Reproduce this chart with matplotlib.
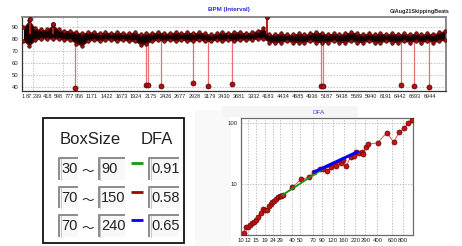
import numpy as np
import matplotlib
matplotlib.use("Agg")
import matplotlib.pyplot as plt
from matplotlib.patches import Rectangle

# ---------------- data ----------------
# BPM band (upper / lower envelope) every 100 beats
band_x = np.arange(0, 7300, 100)
band_hi = [90, 96, 89, 88, 88, 92, 88, 87, 87, 86, 85, 86, 86, 85, 86, 85, 86, 85, 85, 86,
           84, 85, 85, 86, 85, 85, 86, 85, 86, 85, 86, 85, 84, 85, 86, 85, 86, 86, 85, 86,
           87, 89, 84, 84, 85, 84, 84, 85, 84, 85, 86, 85, 84, 85, 84, 85, 86, 85, 84, 85,
           84, 85, 84, 85, 84, 85, 84, 85, 84, 85, 84, 86, 87]
band_lo = [78, 74, 79, 80, 80, 80, 80, 79, 79, 76, 74, 78, 79, 78, 79, 79, 78, 79, 78, 78,
           75, 76, 78, 79, 78, 79, 78, 79, 78, 78, 79, 78, 78, 79, 78, 79, 78, 79, 79, 79,
           80, 80, 77, 77, 77, 78, 77, 77, 77, 78, 77, 77, 77, 78, 77, 77, 78, 77, 77, 78,
           77, 77, 78, 77, 77, 78, 77, 78, 77, 78, 77, 78, 79]
spike_x = [112, 500, 4154]
spike_y = [97, 92.5, 98.5]
drop_x = [886, 2090, 2120, 2355, 2891, 3147, 3562, 5090, 5120, 6443, 6671, 6927]
drop_y = [39, 41.5, 41.5, 40.8, 43.2, 40.8, 42.3, 41, 41, 42, 41, 40]
bpm_xticks = [1, 87, 239, 418, 598, 777, 956, 1171, 1422, 1673, 1924, 2175, 2426, 2677,
              2928, 3179, 3430, 3681, 3932, 4183, 4434, 4685, 4936, 5187, 5438, 5689,
              5940, 6191, 6442, 6693, 6944]
bpm_yticks = [40, 50, 60, 70, 80, 90]

# DFA
dfa_n = [10.7, 11.35, 12.0, 12.75, 13.6, 14.3, 14.9, 15.7, 17.15, 18.3, 19.1, 20.0, 21.3,
         22.5, 23.3, 24.6, 25.7, 27.4, 28.6, 29.9, 31.3, 39.9, 50.4, 62.5, 72.1, 84.0,
         91.9, 103, 115, 131, 151, 157, 172, 194, 215, 225, 246, 263, 270, 295, 309,
         404, 515, 622, 725, 829, 923, 1009]
dfa_f = [1.58, 1.93, 1.98, 2.11, 2.25, 2.40, 2.55, 2.82, 3.37, 3.83, 3.73, 3.73, 4.40,
         4.69, 4.99, 5.31, 5.59, 6.03, 6.34, 6.42, 6.50, 8.81, 11.9, 12.9, 15.8, 17.5,
         17.7, 16.4, 18.8, 19.8, 21.9, 24.8, 19.8, 28.2, 29.3, 34.1, 32.0, 34.1, 31.2,
         41.2, 45.1, 48.0, 70.2, 48.7, 72.8, 82.6, 102, 113]
dfa_xticks = [10, 12, 15, 19, 24, 29, 40, 50, 70, 90, 120, 160, 220, 290, 400, 600, 800]
dfa_yticks = [10, 100]

box_lo = [30, 70, 70]
box_hi = [90, 150, 240]
alpha = [0.91, 0.58, 0.65]
fit_f0 = [6.45, 15.3, 15.5]
fit_colors = ["#119911", "#a00000", "#0000ff"]
fit_lw = [1.3, 1.6, 2.2]

# ---------------- figure ----------------
W, H = 462, 246
fig = plt.figure(figsize=(W / 100, H / 100), dpi=100)
fig.patch.set_facecolor("white")

def fx(px):
    return px / W

def fy(py):
    return 1 - py / H

# overlay axes in pixel coords for GUI widget + labels
ov = fig.add_axes([0, 0, 1, 1])
ov.set_xlim(0, W)
ov.set_ylim(H, 0)
ov.axis("off")

FONT = "Liberation Sans"

# ---- top BPM chart ----
ax = fig.add_axes([fx(22), fy(91), fx(446) - fx(22), fy(17) - fy(91)])
ax.set_xlim(-25, 7220)
ax.set_ylim(36.7, 98.3)
hi = np.array(band_hi, float)
lo = np.array(band_lo, float)
ax.fill_between(band_x, lo, hi, color="#6a0808", lw=0, zorder=3)
ax.fill_between(band_x, lo + 1.5, hi - 1.5, color="#140202", lw=0, zorder=3)
for arr in (band_hi, band_lo):
    ax.plot(band_x, arr, "o", ms=2.6, mfc="#9a1010", mec="#2a0000", mew=0.4, zorder=4)
ax.vlines(spike_x, 84, spike_y, color="#c01818", lw=1.4, zorder=3)
ax.plot(spike_x, spike_y, "o", ms=3.0, mfc="#a31010", mec="#2a0000", mew=0.5, zorder=4)
ax.vlines(drop_x, 79, drop_y, color="#e87070", lw=0.9, zorder=2)
ax.plot(drop_x, drop_y, "o", ms=3.6, mfc="#b01010", mec="#500000", mew=0.5, zorder=4)

ax.set_xticks(bpm_xticks)
ax.set_xticklabels([str(v) for v in bpm_xticks], fontsize=4.0, family=FONT, color="#222")
ax.set_yticks(bpm_yticks)
ax.set_yticklabels([str(v) for v in bpm_yticks], fontsize=4.3, family=FONT, color="#222")
ax.tick_params(length=0, pad=2.5)
grid_x = [bpm_xticks[7] + 251 * k for k in range(-4, 25)]
ax.set_xticks(grid_x, minor=True)
ax.tick_params(which="minor", length=0)
ax.grid(True, which="minor", axis="x", ls=(0, (2, 2)), color="#aaaaaa", lw=0.5)
ax.grid(True, which="major", axis="y", ls=(0, (2, 2)), color="#aaaaaa", lw=0.5)
ax.grid(False, which="major", axis="x")
for s in ("left", "bottom"):
    ax.spines[s].set_color("#333333")
    ax.spines[s].set_linewidth(0.9)
for s in ("top", "right"):
    ax.spines[s].set_color("#8a8a8a")
    ax.spines[s].set_linewidth(1.4)

ov.text(208, 10, "BPM (Interval)", fontsize=4.5, color="#2a2ad0", family=FONT,
        ha="left", va="center", fontweight="bold")
ov.text(449, 11, "GIAug21SkippingBeats", fontsize=3.9, color="#222222", family=FONT,
        ha="right", va="center", fontweight="bold")

# ---- background patches ----
ov.add_patch(Rectangle((195, 110), 36, 136, facecolor="#f9f9f9", edgecolor="none"))
ov.add_patch(Rectangle((222, 106), 136, 11, facecolor="#f5f5f5", edgecolor="none"))

# ---- widget box ----
ov.add_patch(Rectangle((42.7, 118.3), 141.3, 124.4, facecolor="white",
                       edgecolor="#111111", lw=1.3))
ov.text(90.5, 140, "BoxSize", fontsize=12, family=FONT, color="#222222",
        ha="center", va="center")
ov.text(156.7, 140, "DFA", fontsize=12, family=FONT, color="#222222",
        ha="center", va="center")

def editbox(x0, x1, yc, txt):
    y0, y1 = yc - 11, yc + 10.7
    ov.add_patch(Rectangle((x0, y0), x1 - x0, y1 - y0, facecolor="#f8f8f8",
                           edgecolor="none"))
    ov.plot([x0, x0, x1], [y1, y0, y0], color="#8c8c8c", lw=1.4, solid_capstyle="butt")
    ov.plot([x0 + 1.3, x0 + 1.3], [y0 + 1, y1], color="#c8c8c8", lw=0.7)
    ov.text(x0 + 2, yc, txt, fontsize=10.5, family=FONT, color="#222222",
            ha="left", va="center")

row_y = [169.3, 197.7, 226]
for i in range(3):
    yc = row_y[i]
    editbox(59.3, 78.3, yc, str(box_lo[i]))
    ov.text(88, yc + 2.5, "～", fontsize=9, family=["Noto Sans CJK JP", "DejaVu Sans"],
            color="#222222", ha="center", va="center")
    editbox(99, 125, yc, str(box_hi[i]))
    ov.plot([131, 142.7], [yc - 6, yc - 6], color=fit_colors[i], lw=2.0,
            solid_capstyle="butt")
    editbox(149.3, 179, yc, f"{alpha[i]:.2f}")

# ---- DFA chart ----
ax2 = fig.add_axes([fx(241), fy(235), fx(412.7) - fx(241), fy(118.3) - fy(235)])
ax2.set_xscale("log")
ax2.set_yscale("log")
ax2.set_xlim(10.0, 1040)
ax2.set_ylim(1.45, 121)
ax2.plot(dfa_n, dfa_f, "-", color="#e65050", lw=0.7, zorder=3)
ax2.plot(dfa_n, dfa_f, "o", ms=3.6, mfc="#c41414", mec="#6a0000", mew=0.5, zorder=4)
order = [1, 0, 2]
for i in order:
    xs = np.array([box_lo[i], box_hi[i]], dtype=float)
    ys = fit_f0[i] * (xs / xs[0]) ** alpha[i]
    ax2.plot(xs, ys, "-", color=fit_colors[i], lw=fit_lw[i], zorder=5,
             solid_capstyle="butt")

ax2.xaxis.set_major_locator(matplotlib.ticker.FixedLocator(dfa_xticks))
ax2.xaxis.set_minor_locator(matplotlib.ticker.NullLocator())
ax2.xaxis.set_major_formatter(matplotlib.ticker.FixedFormatter([str(v) for v in dfa_xticks]))
ax2.yaxis.set_major_locator(matplotlib.ticker.FixedLocator(dfa_yticks))
ax2.yaxis.set_minor_locator(matplotlib.ticker.NullLocator())
ax2.yaxis.set_major_formatter(matplotlib.ticker.FixedFormatter([str(v) for v in dfa_yticks]))
for lab in ax2.get_xticklabels() + ax2.get_yticklabels():
    lab.set_fontsize(4.3)
    lab.set_family(FONT)
    lab.set_color("#222222")
ax2.tick_params(length=0, pad=2.5)
ax2.grid(True, which="major", ls=(0, (2, 2)), color="#aaaaaa", lw=0.5)
for s in ax2.spines.values():
    s.set_color("#6a6a6a")
    s.set_linewidth(0.9)
ov.text(319, 112, "DFA", fontsize=4.6, color="#4a4ae0", family=FONT,
        ha="center", va="center")

fig.savefig("out.png", dpi=100, facecolor="white")
